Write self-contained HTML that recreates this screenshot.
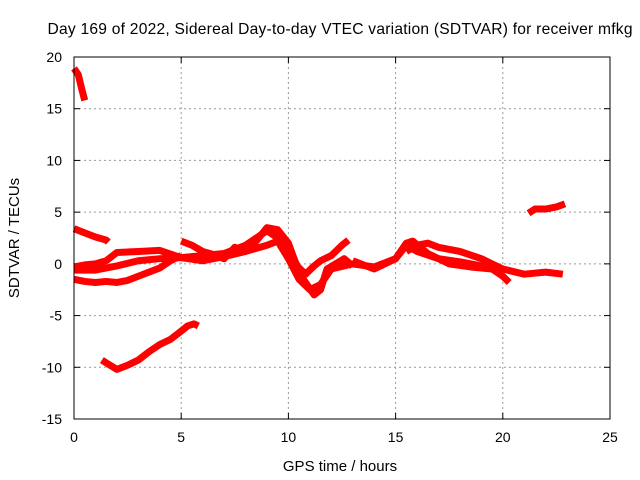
<!DOCTYPE html>
<html><head><meta charset="utf-8"><style>
body{margin:0;background:#fff}
svg{display:block;font-family:"Liberation Sans",sans-serif}
</style></head><body>
<svg id="c" width="640" height="480">
<rect width="640" height="480" fill="#fff"/>
<text x="340" y="34" font-size="15.6" text-anchor="middle" textLength="585">Day 169 of 2022, Sidereal Day-to-day VTEC variation (SDTVAR) for receiver mfkg</text>
<text x="340" y="471" font-size="15" text-anchor="middle">GPS time / hours</text>
<text transform="translate(19,238) rotate(-90)" font-size="15" text-anchor="middle">SDTVAR / TECUs</text>
<g id="grid"></g><g id="data"></g>
<rect x="74" y="57" width="536" height="362" fill="none" stroke="#000" stroke-width="1"/>
</svg>
<script>
const xTicks=[0,5,10,15,20,25];
const yTicks=[20,15,10,5,0,-5,-10,-15];
const s1=[[0,18.9],[0.2,18.3],[0.35,17],[0.5,15.8]];
const s2=[[0,3.4],[0.5,3],[1,2.6],[1.5,2.3],[1.6,2.1]];
const s3=[[0,-1.5],[0.5,-1.7],[1,-1.8],[1.5,-1.7],[2,-1.8],[2.5,-1.6],[3,-1.2],[3.5,-0.8],[4,-0.4],[4.5,0.3],[5,0.8]];
const s4=[[0,-0.6],[1,-0.6],[2,-0.2],[3,0.3],[4,0.5],[5,0.6],[6,0.3],[7,0.7],[8,1.2],[9,1.8],[9.5,2.2],[10,0.5],[10.5,-1.5],[11,-2.5],[11.5,-2],[12,-0.5],[13,0],[14,-0.3],[15,0.5],[15.5,1.8],[16,1.2],[17,0.5],[18,0.2],[19,-0.2],[20,-0.5],[21,-1],[22,-0.8],[22.8,-1]];
const s5=[[0,-0.3],[0.5,-0.1],[1,0],[1.5,0.3],[2,1.1],[3,1.2],[4,1.3],[5,0.6],[6,0.8],[7,1],[8,1.8],[8.5,2.5],[9,3.2],[9.5,2.5],[10,1.6],[10.3,0],[10.8,-1],[11.2,-0.2],[11.5,0.3],[12,0.8],[12.5,1.8],[12.8,2.3]];
const s6=[[5,2.2],[5.5,1.8],[6,1.2],[6.5,0.9],[7,0.5],[7.5,1.6],[8,1.2],[8.5,2.2],[9,3.5],[9.5,3.3],[10,2],[10.3,0.3],[10.7,-1.5],[11.2,-3],[11.5,-2.5],[11.8,-0.5],[12.2,0],[12.6,0.5],[13,-0.2]];
const s7=[[15.5,1.2],[16,1.8],[16.5,2],[17,1.6],[18,1.2],[19,0.5],[19.5,0],[20,-0.5]];
const s8=[[13,0.3],[14,-0.5],[14.5,0],[15,0.5],[15.5,2],[15.8,2.2],[16.5,1],[17.5,0],[18.5,-0.3],[19.5,-0.5],[20,-1.2],[20.3,-1.8]];
const s9=[[21.2,4.9],[21.5,5.3],[22,5.3],[22.5,5.5],[22.9,5.8]];
const s10=[[1.3,-9.3],[1.6,-9.7],[2,-10.2],[2.5,-9.8],[3,-9.3],[3.5,-8.5],[4,-7.8],[4.5,-7.3],[5,-6.5],[5.3,-6],[5.6,-5.8],[5.8,-6.0]];
const series=[s1,s2,s3,s4,s5,s6,s7,s8,s9,s10];
const NS="http://www.w3.org/2000/svg";
const X=h=>74+h*(536/25);
const Y=v=>57+(20-v)*(362/35);
const grid=document.getElementById('grid'),data=document.getElementById('data');
function mk(t,a,p){const e=document.createElementNS(NS,t);for(const k in a)e.setAttribute(k,a[k]);p.appendChild(e);return e;}
xTicks.forEach(t=>{
  const x=X(t);
  if(t>0&&t<25){const l=mk('line',{x1:x,x2:x,y1:57,y2:419,stroke:'#999','stroke-dasharray':'2,3'},grid);
  
  }
  mk('line',{x1:x,x2:x,y1:419,y2:413,stroke:'#000'},grid);
  mk('line',{x1:x,x2:x,y1:57,y2:63,stroke:'#000'},grid);
  const tx=mk('text',{x:x,y:442,'font-size':14,'text-anchor':'middle'},grid);tx.textContent=t;
  
  
});
yTicks.forEach(t=>{
  const y=Y(t);
  if(t>-15&&t<20){const l=mk('line',{x1:74,x2:610,y1:y,y2:y,stroke:'#999','stroke-dasharray':'2,3'},grid);
  
  }
  mk('line',{x1:74,x2:80,y1:y,y2:y,stroke:'#000'},grid);
  mk('line',{x1:604,x2:610,y1:y,y2:y,stroke:'#000'},grid);
  const tx=mk('text',{x:62,y:y+5,'font-size':14,'text-anchor':'end'},grid);tx.textContent=t;
  
  
});
series.forEach(s=>{
  const p=mk('polyline',{points:s.map(d=>X(d[0])+','+Y(d[1])).join(' '),fill:'none',stroke:'#f00','stroke-width':7,'stroke-linejoin':'round'},data);
  
  
});
</script>
</body></html>
